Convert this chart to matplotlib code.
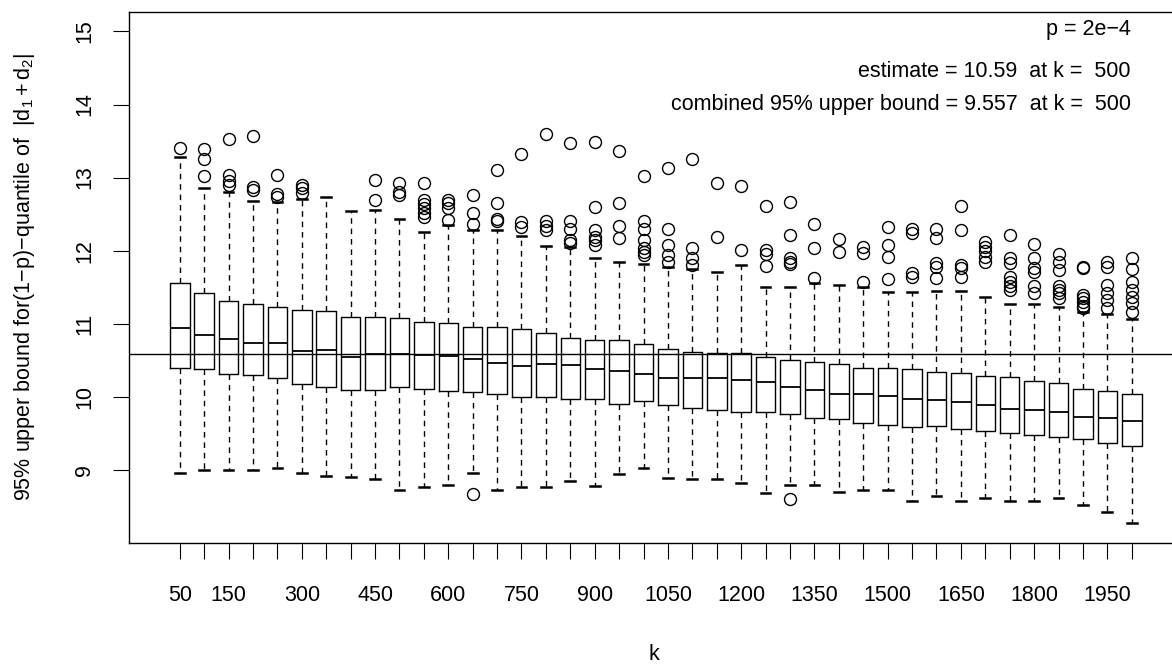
import matplotlib
matplotlib.use("Agg")
import matplotlib.pyplot as plt

plt.rcParams['font.family'] = ['Liberation Sans', 'DejaVu Sans']
plt.rcParams['mathtext.fontset'] = 'custom'
plt.rcParams['mathtext.rm'] = 'Liberation Sans'
plt.rcParams['mathtext.it'] = 'Liberation Sans'

# data
k = [50, 100, 150, 200, 250, 300, 350, 400, 450, 500,
     550, 600, 650, 700, 750, 800, 850, 900, 950, 1000,
     1050, 1100, 1150, 1200, 1250, 1300, 1350, 1400, 1450, 1500,
     1550, 1600, 1650, 1700, 1750, 1800, 1850, 1900, 1950, 2000]
shown_labels = [50, 150, 300, 450, 600, 750, 900, 1050, 1200, 1350,
                1500, 1650, 1800, 1950]

whishi = [13.28, 12.86, 12.80, 12.68, 12.67, 12.71, 12.73, 12.54, 12.55, 12.43,
          12.25, 12.35, 12.28, 12.28, 12.20, 12.07, 12.05, 11.90, 11.84, 11.82,
          11.77, 11.75, 11.71, 11.81, 11.50, 11.50, 11.56, 11.53, 11.50, 11.43,
          11.44, 11.45, 11.45, 11.37, 11.27, 11.27, 11.23, 11.16, 11.13, 11.06]
q3 = [11.56, 11.42, 11.31, 11.27, 11.23, 11.19, 11.17, 11.09, 11.09, 11.08,
      11.02, 11.01, 10.96, 10.96, 10.93, 10.88, 10.81, 10.78, 10.78, 10.72,
      10.66, 10.61, 10.60, 10.60, 10.54, 10.50, 10.48, 10.45, 10.40, 10.40,
      10.38, 10.34, 10.33, 10.29, 10.27, 10.22, 10.19, 10.11, 10.08, 10.04]
med = [10.94, 10.85, 10.79, 10.74, 10.73, 10.63, 10.64, 10.55, 10.58, 10.58,
       10.57, 10.56, 10.52, 10.46, 10.42, 10.45, 10.43, 10.38, 10.36, 10.31,
       10.26, 10.26, 10.26, 10.23, 10.20, 10.14, 10.10, 10.04, 10.04, 10.01,
       9.97, 9.95, 9.93, 9.89, 9.84, 9.82, 9.79, 9.73, 9.71, 9.67]
q1 = [10.40, 10.38, 10.31, 10.30, 10.26, 10.18, 10.14, 10.10, 10.10, 10.13,
      10.11, 10.08, 10.07, 10.04, 10.00, 10.00, 9.97, 9.97, 9.90, 9.94,
      9.89, 9.85, 9.82, 9.79, 9.79, 9.77, 9.71, 9.70, 9.64, 9.62,
      9.59, 9.60, 9.56, 9.53, 9.51, 9.48, 9.45, 9.42, 9.37, 9.33]
whislo = [8.96, 9.00, 9.00, 9.00, 9.03, 8.96, 8.91, 8.90, 8.88, 8.72,
          8.76, 8.80, 8.96, 8.73, 8.76, 8.76, 8.85, 8.78, 8.95, 9.02,
          8.89, 8.87, 8.88, 8.82, 8.69, 8.80, 8.80, 8.70, 8.72, 8.73,
          8.57, 8.64, 8.58, 8.62, 8.57, 8.58, 8.62, 8.52, 8.42, 8.27]
outliers = [
    [13.40],
    [13.39, 13.25, 13.02],
    [13.53, 13.03, 12.96, 12.90],
    [13.57, 12.87, 12.83],
    [13.04, 12.78, 12.74],
    [12.90, 12.86, 12.79],
    [],
    [],
    [12.97, 12.70],
    [12.93, 12.80, 12.76],
    [12.92, 12.69, 12.64, 12.58, 12.51, 12.46],
    [12.69, 12.65, 12.58, 12.42],
    [12.76, 12.51, 12.37, 8.67],
    [13.10, 12.65, 12.44, 12.40],
    [13.32, 12.39, 12.32],
    [13.60, 12.40, 12.34, 12.28],
    [13.47, 12.40, 12.30, 12.14, 12.10],
    [13.49, 12.60, 12.28, 12.19, 12.14, 12.08],
    [13.36, 12.65, 12.34, 12.18],
    [13.02, 12.41, 12.30, 12.14, 12.03, 11.98, 11.94],
    [13.13, 12.30, 12.08, 11.94, 11.85],
    [13.25, 12.03, 11.90, 11.80],
    [12.93, 12.19],
    [12.88, 12.01],
    [12.61, 12.01, 11.96, 11.79],
    [12.67, 12.21, 11.90, 11.85, 11.82, 8.60],
    [12.36, 12.03, 11.63],
    [12.16, 11.98],
    [12.05, 11.97, 11.57],
    [12.33, 12.08, 11.92, 11.61],
    [12.30, 12.24, 11.70, 11.64],
    [12.30, 12.17, 11.83, 11.78, 11.62],
    [12.61, 12.28, 11.80, 11.76, 11.64],
    [12.12, 12.05, 11.99, 11.92, 11.85],
    [12.21, 11.90, 11.83, 11.64, 11.57, 11.51, 11.46],
    [12.09, 11.90, 11.76, 11.71, 11.51, 11.42],
    [11.96, 11.85, 11.74, 11.51, 11.46, 11.42, 11.35],
    [11.78, 11.76, 11.39, 11.35, 11.30, 11.24, 11.21],
    [11.85, 11.78, 11.53, 11.42, 11.33, 11.21],
    [11.90, 11.75, 11.57, 11.46, 11.37, 11.28, 11.16],
]
estimate = 10.59

stats = []
for i in range(len(k)):
    stats.append(dict(whislo=whislo[i], q1=q1[i], med=med[i], q3=q3[i],
                      whishi=whishi[i], fliers=outliers[i]))

W, H = 1172, 664
fs = 15.5
fig = plt.figure(figsize=(W / 100, H / 100), dpi=100)
# plot region in pixels: left 128.5, right 1183 (beyond the edge), top 11.7, bottom 543
ax = fig.add_axes([128.5 / W, 1 - 543 / H, (1183 - 128.5) / W, (543 - 11.7) / H])

lw = 1.0
positions = list(range(1, len(k) + 1))
ax.bxp(stats, positions=positions, widths=0.8, patch_artist=False,
       boxprops=dict(color='black', linewidth=lw),
       medianprops=dict(color='black', linewidth=1.3),
       whiskerprops=dict(color='black', linewidth=lw, linestyle=(0, (4, 3.5))),
       capprops=dict(color='black', linewidth=1.8),
       flierprops=dict(marker='o', markersize=8.6, markerfacecolor='none',
                       markeredgecolor='black', markeredgewidth=1.0, linestyle='none'))

ax.axhline(estimate, color='black', linewidth=lw)

ax.set_xlim(-1.1, 42.1)
ax.set_ylim(8.0, 15.27)
ax.set_yticks([9, 10, 11, 12, 13, 14, 15])
ax.set_yticklabels(['9', '10', '11', '12', '13', '14', '15'], rotation=90, va='center')
ax.set_xticks(positions)
ax.set_xticklabels([str(v) if v in shown_labels else '' for v in k])

for s in ax.spines.values():
    s.set_linewidth(lw)
ax.tick_params(axis='both', direction='out', length=11.5, width=0.8, labelsize=fs, colors='black')
ax.tick_params(axis='x', pad=18.5)
ax.tick_params(axis='y', pad=12.4)

fig.text(654 / W, 1 - 655 / H, 'k', fontsize=fs, ha='center', va='center')
fig.text(25 / W, 1 - 277 / H,
         '95% upper bound for(1\u2212p)\u2212quantile of  $|\\mathrm{d}_1 + \\mathrm{d}_2|$',
         fontsize=fs, rotation=90, ha='center', va='center')

fig.text(1131 / W, 1 - 35 / H, 'p = 2e\u22124', fontsize=fs, ha='right', va='baseline')
fig.text(1131 / W, 1 - 77 / H, 'estimate = 10.59  at k =  500', fontsize=fs,
         ha='right', va='baseline')
fig.text(1131 / W, 1 - 110 / H, 'combined 95% upper bound = 9.557  at k =  500',
         fontsize=fs, ha='right', va='baseline')

fig.savefig('out.png', dpi=100)
